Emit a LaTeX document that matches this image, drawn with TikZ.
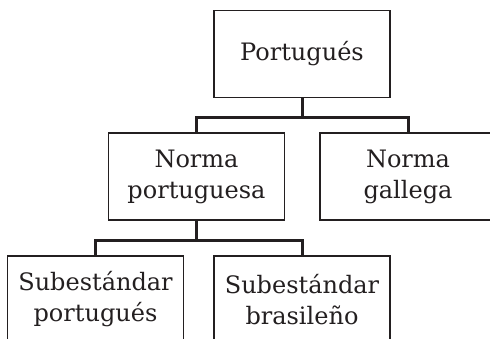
\documentclass[tikz,border=0pt]{standalone}
\usepackage{fontspec}
\setmainfont{DejaVu Serif}
\usepackage{tikz}
\usetikzlibrary{positioning}
\definecolor{ink}{HTML}{231F20}
\tikzstyle{box}=[draw=ink, line width=1.9pt, minimum width=176pt, minimum height=87pt, align=center, text=ink, font=\fontsize{24}{31}\selectfont]
\tikzstyle{conn}=[draw=ink, line width=3pt]

\begin{document}
\begin{tikzpicture}[x=1pt,y=-1pt]
    \useasboundingbox (0,0) rectangle (490,338);
    \clip (0,0) rectangle (490,338);
    \node [box] (top) at (302,54) {Portugués};
    \node [box] (np) at (196.5,176.5) {Norma\\portuguesa};
    \node [box] (ng) at (408,176.5) {Norma\\gallega};
    \node [box] (sp) at (95.5,299.5) {Subestándar\\portugués};
    \node [box] (sb) at (302,299.5) {Subestándar\\brasileño};
    \coordinate (j1) at (302,117);
    \coordinate (j2) at (196.5,240);
    \draw [conn] (top) -- (j1);
    \draw [conn] (j1) -| (np);
    \draw [conn] (j1) -| (ng);
    \draw [conn] (np) -- (j2);
    \draw [conn] (j2) -| (sp);
    \draw [conn] (j2) -| (sb);
\end{tikzpicture}
\end{document}
